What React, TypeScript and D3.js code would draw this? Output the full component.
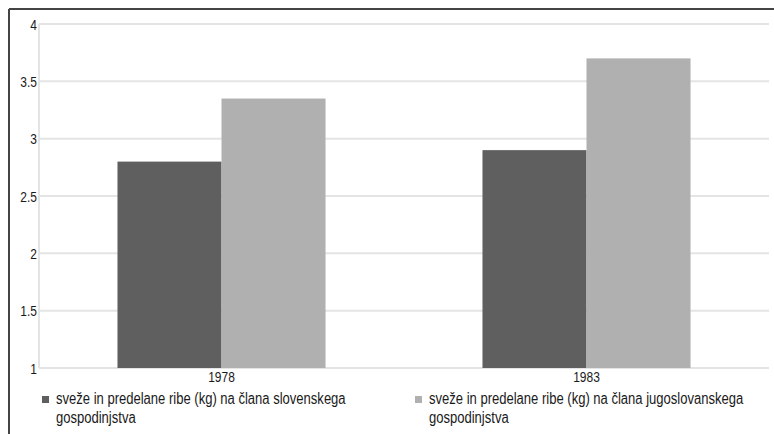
import React from "react";
import * as d3 from "d3";

const categories = ["1978", "1983"];
const seriesNames = [
  "sveže in predelane ribe (kg) na člana slovenskega gospodinjstva",
  "sveže in predelane ribe (kg) na člana jugoslovanskega gospodinjstva",
];
const slovenianValues = [2.8, 2.9];
const yugoslavValues = [3.35, 3.7];
const yTicks = [1, 1.5, 2, 2.5, 3, 3.5, 4];
const legendLines = [
  ["sveže in predelane ribe (kg) na člana slovenskega", "gospodinjstva"],
  ["sveže in predelane ribe (kg) na člana jugoslovanskega", "gospodinjstva"],
];

const colors = ["#5f5f5f", "#b0b0b0"];
const FONT = "'Liberation Sans', Arial, sans-serif";

function NText(props: {
  x: number;
  y: number;
  anchor?: "start" | "middle" | "end";
  size: number;
  sx: number;
  children: React.ReactNode;
}) {
  return (
    <text
      transform={`translate(${props.x},${props.y}) scale(${props.sx},1)`}
      textAnchor={props.anchor ?? "start"}
      fontSize={props.size}
      fill="#1a1a1a"
    >
      {props.children}
    </text>
  );
}

export default function App() {
  const W = 774;
  const H = 434;
  const left = 39;
  const right = 769;
  const top = 24;
  const bottom = 368;

  const x0 = d3
    .scaleBand<string>()
    .domain(categories)
    .range([left, right])
    .paddingInner(0.43)
    .paddingOuter(0.215);
  const x1 = d3
    .scaleBand<string>()
    .domain(seriesNames)
    .range([0, x0.bandwidth()])
    .padding(0);
  const y = d3.scaleLinear().domain([1, 4]).range([bottom, top]);

  const seriesValues = [slovenianValues, yugoslavValues];
  const legendX = [42, 415];

  return (
    <svg
      width={W}
      height={H}
      style={{ position: "absolute", left: 0, top: 0, background: "#fff" }}
      fontFamily={FONT}
    >
      <rect x={0} y={0} width={W} height={H} fill="#fff" />
      {/* frame */}
      <line x1={9} y1={9} x2={W + 10} y2={9} stroke="#444" strokeWidth={2} />
      <line x1={9} y1={9} x2={9} y2={H + 10} stroke="#444" strokeWidth={2} />

      {/* gridlines */}
      {yTicks.map((t) => (
        <line
          key={t}
          x1={left}
          x2={right}
          y1={y(t)}
          y2={y(t)}
          stroke="#e4e4e4"
          strokeWidth={2}
        />
      ))}
      <line x1={left} x2={left} y1={top} y2={bottom} stroke="#e4e4e4" strokeWidth={2} />

      {/* bars */}
      {seriesNames.map((s, si) =>
        categories.map((c, ci) => {
          const v = seriesValues[si][ci];
          const bx = (x0(c) ?? 0) + (x1(s) ?? 0);
          return (
            <rect
              key={s + c}
              x={bx}
              y={y(v)}
              width={x1.bandwidth()}
              height={y(1) - y(v)}
              fill={colors[si]}
            />
          );
        })
      )}

      {/* y tick labels */}
      {yTicks.map((t) => (
        <NText key={"l" + t} x={37} y={y(t) + 5.5} anchor="end" size={15} sx={0.8}>
          {String(t)}
        </NText>
      ))}

      {/* x labels */}
      {categories.map((c) => (
        <NText
          key={"x" + c}
          x={(x0(c) ?? 0) + x0.bandwidth() / 2}
          y={382}
          anchor="middle"
          size={15}
          sx={0.8}
        >
          {c}
        </NText>
      ))}

      {/* legend */}
      {seriesNames.map((s, si) => (
        <g key={"lg" + si}>
          <rect x={legendX[si]} y={396} width={7} height={7} fill={colors[si]} />
          {legendLines[si].map((ln, li) => (
            <NText key={li} x={legendX[si] + 14} y={404 + li * 19} size={16} sx={0.815}>
              {ln}
            </NText>
          ))}
        </g>
      ))}
    </svg>
  );
}
